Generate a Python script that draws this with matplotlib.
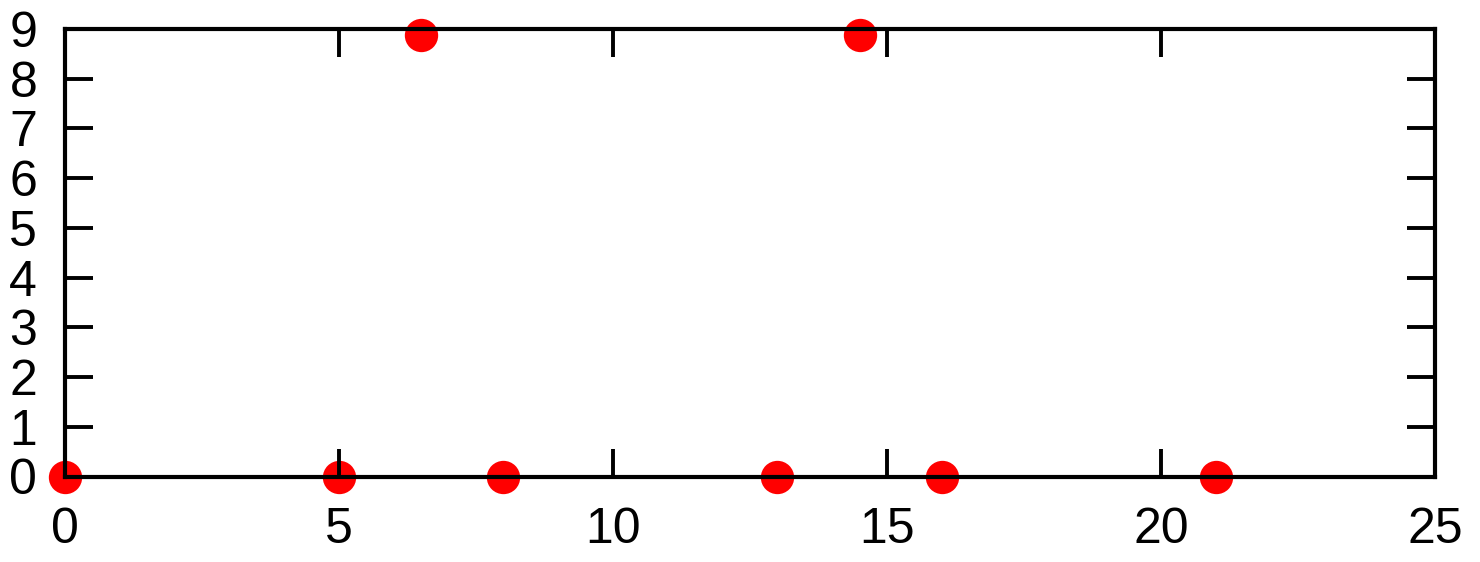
import matplotlib
matplotlib.use("Agg")
import matplotlib.pyplot as plt

x_vals = [0, 5, 6.5, 8, 13, 14.5, 16, 21]
y_vals = [0, 0, 8.87, 0, 0, 8.87, 0, 0]
x_ticks = [0, 5, 10, 15, 20, 25]
y_ticks = [0, 1, 2, 3, 4, 5, 6, 7, 8, 9]

plt.rcParams['font.family'] = ['Liberation Sans', 'DejaVu Sans']

fig = plt.figure(figsize=(14.8, 5.62), dpi=100)
ax = fig.add_axes([65 / 1480, 1 - 476.5 / 562, (1435 - 65) / 1480, (476.5 - 29) / 562])

ax.plot(x_vals, y_vals, 'o', color='#ff0000', markersize=24, markeredgewidth=0,
        clip_on=False, zorder=1)

ax.set_xlim(0, 25)
ax.set_ylim(0, 9)
ax.set_xticks(x_ticks)
ax.set_yticks(y_ticks)
ax.tick_params(direction='in', length=20, width=2.8, labelsize=36,
               top=True, right=True, colors='black')
ax.tick_params(axis='x', pad=22)
ax.tick_params(axis='y', pad=20)
for s in ax.spines.values():
    s.set_linewidth(3)
    s.set_zorder(3)
ax.set_axisbelow(False)

fig.savefig('out.png', dpi=100)
